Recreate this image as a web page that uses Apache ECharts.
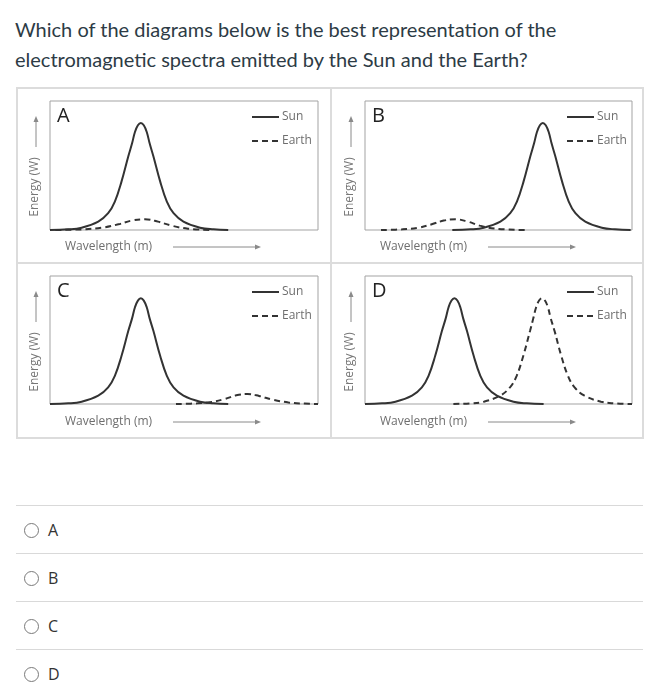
<!DOCTYPE html>
<html>
<head>
<meta charset="utf-8">
<script src="https://cdn.jsdelivr.net/npm/echarts@6/dist/echarts.min.js"></script>
<style>
  body { margin: 0; background: #fff; }
  .page { position: relative; width: 658px; height: 700px; overflow: hidden; }
  .question {
    position: absolute; left: 15px; top: 14px; width: 575px;
    font-family: Lato, sans-serif; font-size: 20px; line-height: 30px; color: #2d3b45;
  }
  #chart { position: absolute; left: 0; top: 0; width: 658px; height: 450px; }
  .sep { position: absolute; left: 16px; width: 627px; height: 1px; background: #d9d9d9; }
  .radio {
    position: absolute; left: 24px; width: 13px; height: 13px;
    border: 1px solid #7a7a7a; border-radius: 50%;
  }
  .opt {
    position: absolute; left: 48px; height: 20px; line-height: 20px;
    font-family: "Open Sans", sans-serif; font-size: 16px; color: #333;
  }
</style>
</head>
<body>
<div class="page">
  <div class="question">Which of the diagrams below is the best representation of the electromagnetic spectra emitted by the Sun and the Earth?</div>
  <div id="chart"></div>
  <div id="options"></div>
</div>
<script>
// panel letters and answer choices
const panelNames = ['A', 'B', 'C', 'D'];
const choices = ['A', 'B', 'C', 'D'];

// curves, x: 0..100 across the box, y: 0..100 up the box
const sunA = [[0,0],[6.8,0.5],[11.8,1.8],[18,6.5],[21.7,13],[24.2,22],[26.7,37.7],[29.2,57],[30.6,67],[31.7,76],[32.8,81.2],[33.9,83],[35,81.2],[36.1,76],[37.2,67],[38.6,57],[41.1,37.7],[43.6,22],[46.1,13],[49.8,6.5],[56,1.8],[61,0.5],[66.5,0]];
const earthA = [[2,0],[12,0.5],[19.5,1.8],[25.5,4.4],[30.5,7.3],[35.4,8.3],[40.3,6.5],[45.3,3.4],[51.5,1],[60,0]];

const sunB = [[32.7,0],[39.5,0.5],[44.5,1.8],[50.7,6.5],[54.4,13],[56.9,22],[59.4,37.7],[61.9,57],[63.3,67],[64.4,76],[65.5,81.2],[66.6,83],[67.7,81.2],[68.8,76],[69.9,67],[71.3,57],[73.8,37.7],[76.3,22],[78.8,13],[82.5,6.5],[88.7,1.8],[93.7,0.5],[99.5,0]];
const earthB = [[6,0],[14,0.5],[20,1.8],[25,4.4],[29.5,7.3],[34,8.3],[38.5,6.5],[43,3.4],[49,1],[60,0]];

const sunC = [[0,0],[6.8,0.5],[11.8,1.8],[18,6.5],[21.7,13],[24.2,22],[26.7,37.7],[29.2,57],[30.6,66.7],[31.7,75.6],[32.8,80.8],[33.9,82.6],[35,80.8],[36.1,75.6],[37.2,66.7],[38.6,57],[41.1,37.7],[43.6,22],[46.1,13],[49.8,6.5],[56,1.8],[61,0.5],[66.5,0]];
const earthC = [[47,0],[55,0.5],[60,1.5],[65,3.8],[69.5,6.8],[73.7,7.8],[78,6.3],[83,3.4],[89,1.2],[95,0.3],[100,0]];

const sunD = [[0,0],[6.4,0.5],[11.4,1.8],[17.6,6.5],[21.3,13],[23.8,22],[26.3,37.7],[28.8,57],[30.2,66.7],[31.3,75.6],[32.4,80.8],[33.5,82.6],[34.6,80.8],[35.7,75.6],[36.8,66.7],[38.2,57],[40.7,37.7],[43.2,22],[45.7,13],[49.4,6.5],[55.6,1.8],[60.6,0.5],[66.9,0]];
const earthD = [[33.1,0],[39.5,0.5],[44.5,1.8],[50.6,6.5],[54.3,13],[56.8,22],[59.3,37.7],[61.8,57],[63,66.7],[64.1,75.6],[65.2,80.8],[66.3,82.6],[67.4,80.8],[68.5,75.6],[69.6,66.7],[71,57],[73.5,37.7],[76,22],[78.5,13],[82.2,6.5],[88.4,1.8],[93.4,0.5],[100,0]];

const sunData = [sunA, sunB, sunC, sunD];
const earthData = [earthA, earthB, earthC, earthD];

// plot boxes (page pixels)
const boxes = [
  {left: 50, top: 101, width: 268, height: 129},
  {left: 365, top: 101, width: 267, height: 129},
  {left: 50, top: 276, width: 268, height: 128},
  {left: 365, top: 276, width: 267, height: 128}
];

const font = '"Open Sans", sans-serif';
const lineColor = '#333';
const grayText = '#6e6e6e';

function panelGraphics(b, name) {
  const x = b.left, y = b.top;
  return [
    {type: 'text', x: x + 7, y: y + 15, style: {text: name, font: '20px ' + font, fill: '#222', verticalAlign: 'middle'}},
    // legend
    {type: 'line', shape: {x1: x + 202, y1: y + 16, x2: x + 229, y2: y + 16}, style: {stroke: lineColor, lineWidth: 2}},
    {type: 'text', x: x + 232, y: y + 16, style: {text: 'Sun', font: '12px ' + font, fill: grayText, verticalAlign: 'middle'}},
    {type: 'line', shape: {x1: x + 202, y1: y + 40, x2: x + 229, y2: y + 40}, style: {stroke: lineColor, lineWidth: 2, lineDash: [6, 4]}},
    {type: 'text', x: x + 232, y: y + 40, style: {text: 'Earth', font: '12px ' + font, fill: grayText, verticalAlign: 'middle'}},
    // y label + arrow
    {type: 'text', x: x - 15, y: y + 86, rotation: Math.PI / 2, style: {text: 'Energy (W)', font: '12px ' + font, fill: '#777', align: 'center', verticalAlign: 'middle'}},
    {type: 'line', shape: {x1: x - 14, y1: y + 46, x2: x - 14, y2: y + 20}, style: {stroke: '#8a8a8a', lineWidth: 1}},
    {type: 'polygon', shape: {points: [[x - 14, y + 15], [x - 16.5, y + 21], [x - 11.5, y + 21]]}, style: {fill: '#8a8a8a'}},
    // x label + arrow
    {type: 'text', x: x + 15, y: y + 146, style: {text: 'Wavelength (m)', font: '12px ' + font, fill: grayText, verticalAlign: 'middle'}},
    {type: 'line', shape: {x1: x + 123, y1: y + 146, x2: x + 205, y2: y + 146}, style: {stroke: '#8a8a8a', lineWidth: 1}},
    {type: 'polygon', shape: {points: [[x + 211, y + 146], [x + 205, y + 143.5], [x + 205, y + 148.5]]}, style: {fill: '#8a8a8a'}}
  ];
}

let graphic = [
  {type: 'rect', shape: {x: 17, y: 88, width: 626, height: 350}, style: {fill: 'none', stroke: '#dcdcdc', lineWidth: 2}},
  {type: 'line', shape: {x1: 331, y1: 88, x2: 331, y2: 438}, style: {stroke: '#dcdcdc', lineWidth: 2}},
  {type: 'line', shape: {x1: 17, y1: 263, x2: 643, y2: 263}, style: {stroke: '#dcdcdc', lineWidth: 2}}
];
boxes.forEach((b, i) => { graphic = graphic.concat(panelGraphics(b, panelNames[i])); });

const grid = boxes.map(b => ({
  left: b.left, top: b.top, width: b.width, height: b.height,
  show: true, borderColor: '#a3a3a3', borderWidth: 1, backgroundColor: 'transparent'
}));
const xAxis = boxes.map((b, i) => ({type: 'value', gridIndex: i, min: 0, max: 100, show: false}));
const yAxis = boxes.map((b, i) => ({type: 'value', gridIndex: i, min: 0, max: 100, show: false}));

const series = [];
boxes.forEach((b, i) => {
  series.push({
    type: 'line', name: 'Sun', xAxisIndex: i, yAxisIndex: i, data: sunData[i],
    smooth: 0.4, symbol: 'none', clip: false,
    lineStyle: {color: lineColor, width: 2}
  });
  series.push({
    type: 'line', name: 'Earth', xAxisIndex: i, yAxisIndex: i, data: earthData[i],
    smooth: 0.4, symbol: 'none', clip: false,
    lineStyle: {color: lineColor, width: 2, type: [6, 4]}
  });
});

const chart = echarts.init(document.getElementById('chart'));
chart.setOption({
  animation: false,
  grid: grid,
  xAxis: xAxis,
  yAxis: yAxis,
  series: series,
  graphic: graphic
});

// answer list
const optTop = [505, 553, 601, 649];
const opts = document.getElementById('options');
choices.forEach((c, i) => {
  const sep = document.createElement('div');
  sep.className = 'sep';
  sep.style.top = optTop[i] + 'px';
  opts.appendChild(sep);
  const cy = optTop[i] + 25;
  const r = document.createElement('div');
  r.className = 'radio';
  r.style.top = (cy - 7.5) + 'px';
  opts.appendChild(r);
  const t = document.createElement('div');
  t.className = 'opt';
  t.style.top = (cy - 10) + 'px';
  t.textContent = c;
  opts.appendChild(t);
});
</script>
</body>
</html>
